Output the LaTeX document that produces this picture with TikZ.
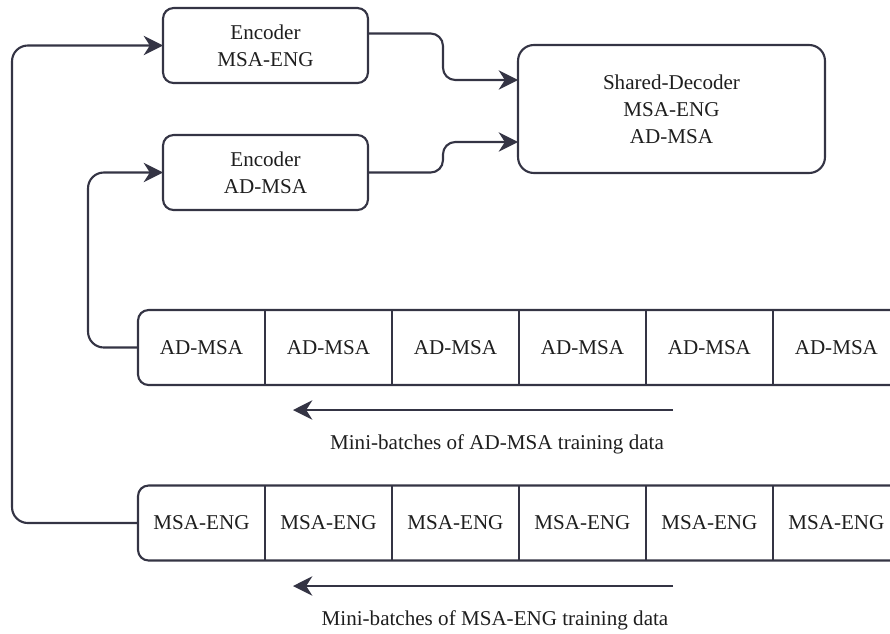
\documentclass[tikz,border=0pt]{standalone}
\usepackage{fontspec}
\setmainfont{Liberation Serif}
\usetikzlibrary{arrows.meta,positioning,calc}

\definecolor{linegray}{RGB}{52,52,68}
\definecolor{txtgray}{RGB}{30,30,30}

\tikzset{
  box/.style={draw=linegray, line width=1.2pt, align=center, text=txtgray,
    font=\fontsize{12}{15.3}\selectfont, inner sep=0pt, outer sep=0pt},
  cell/.style={minimum width=2.54cm, minimum height=1.5cm, inner sep=0pt,
    outer sep=0pt, text=txtgray, font=\fontsize{12}{15.3}\selectfont},
  link/.style={draw=linegray, line width=1.2pt},
  caption/.style={text=txtgray, font=\fontsize{12}{15.3}\selectfont}
}

\begin{document}
\begin{tikzpicture}[x=0.02cm, y=-0.02cm,
  >={Stealth[length=11pt,width=11pt,inset=3.5pt]}]

\clip (0,0) rectangle (890,633);

%--- Encoders and decoder ---
\node[box, rounded corners=6pt, minimum width=4.1cm, minimum height=1.5cm]
  (enc1) at (265.5,45.5) {Encoder\\MSA-ENG};
\node[box, rounded corners=6pt, minimum width=4.1cm, minimum height=1.5cm]
  (enc2) at (265.5,172.5) {Encoder\\AD-MSA};
\node[box, rounded corners=9pt, minimum width=6.14cm, minimum height=2.56cm]
  (dec) at (671.5,109) {Shared-Decoder\\MSA-ENG\\AD-MSA};

%--- Mini-batch rows ---
\node[cell] (ad1) at (201.5,347.5) {AD-MSA};
\node[cell] (ms1) at (201.5,523) {MSA-ENG};
\foreach \i [count=\j from 1] in {2,...,6}{
  \node[cell, right=0pt of ad\j] (ad\i) {AD-MSA};
  \node[cell, right=0pt of ms\j] (ms\i) {MSA-ENG};
}

\foreach \r in {ad,ms}{
  \draw[link, rounded corners=6pt]
    (\r6.north east) -- (\r1.north west) -- (\r1.south west) -- (\r6.south east);
  \foreach \i in {2,...,6}
    \draw[link] (\r\i.north west) -- (\r\i.south west);
}

%--- Connectors ---
\draw[link, ->, rounded corners=9pt] (ms1.west) -- ++(-126,0) |- (enc1.west);
\draw[link, ->, rounded corners=9pt] (ad1.west) -- ++(-50,0) |- (enc2.west);

\draw[link, ->, rounded corners=7pt]
  ($(enc1.east)+(0,-12)$) -- ++(75,0) |- ($(dec.west)+(0,-29)$);
\draw[link, ->, rounded corners=7pt]
  (enc2.east) -- ++(75,0) |- ($(dec.west)+(0,33)$);

%--- Direction arrows ---
\coordinate (adR) at (673,410);
\coordinate (adL) at (293,410);
\coordinate (msR) at (673,586);
\coordinate (msL) at (293,586);
\draw[link, ->] (adR) -- (adL);
\draw[link, ->] (msR) -- (msL);

\node[caption] (adcap) at (497,444) {Mini-batches of AD-MSA training data};
\node[caption] (mscap) at (495,620) {Mini-batches of MSA-ENG training data};

\end{tikzpicture}
\end{document}
